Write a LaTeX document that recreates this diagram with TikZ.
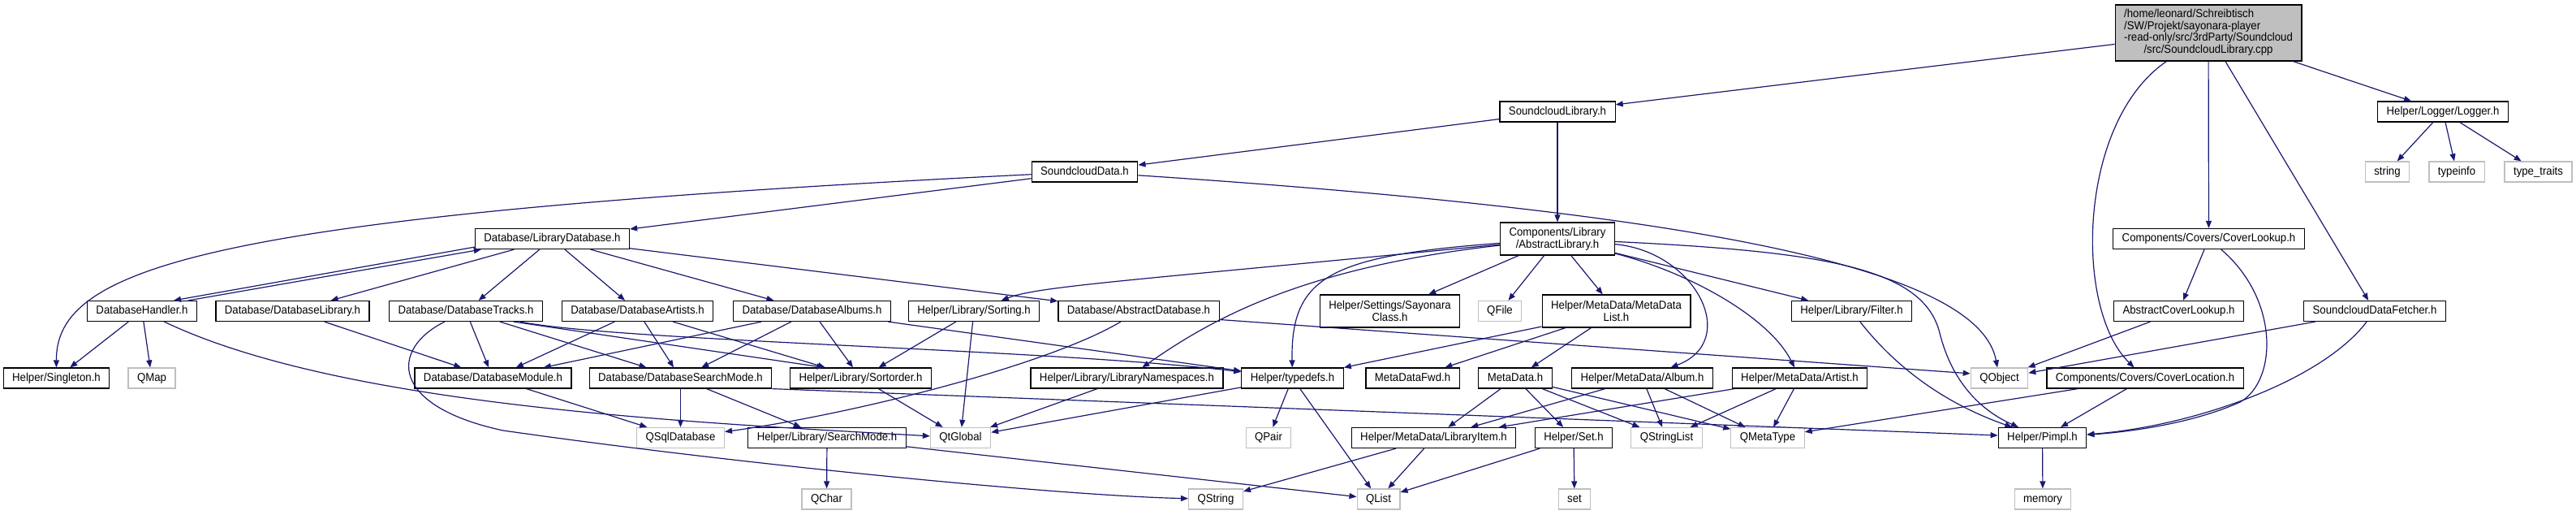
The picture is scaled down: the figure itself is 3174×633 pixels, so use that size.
\documentclass[tikz,border=0pt]{standalone}
\usepackage{fontspec}
\setmainfont{Liberation Sans}[FakeStretch=0.93]
\usepackage{tikz}
\usetikzlibrary{arrows.meta,calc}
\definecolor{edgeblue}{HTML}{191970}
\definecolor{extgray}{HTML}{BFBFBF}
\definecolor{rootgray}{HTML}{BFBFBF}
\newcommand\dxfont{\fontsize{7.1}{7.35}\selectfont}

\begin{document}
\begin{tikzpicture}[
    x=0.5pt, y=-0.5pt,
    dxbox/.style={line width=0.6pt, inner xsep=5.5pt, inner ysep=0pt, font=\dxfont},
    hdr/.style={dxbox, draw=black, minimum height=12.5pt, text height=5.2pt, text depth=1.5pt},
    ext/.style={hdr, draw=extgray},
    hdrtwo/.style={dxbox, draw=black, align=center, minimum height=20pt},
    arr/.style={-{Triangle[length=4.5pt,width=3.5pt]}, draw=edgeblue, line width=0.6pt}
  ]
    \useasboundingbox (0,0) rectangle (3174,633);
    % top levels
    \node[dxbox, draw=black, fill=rootgray, minimum width=113.5pt, minimum height=34.5pt] (root) at (2721,40.5)
      {\begin{tabular}{@{}l@{}}/home/leonard/Schreibtisch\\/SW/Projekt/sayonara-player\\-read-only/src/3rdParty/Soundcloud\\\multicolumn{1}{@{}c@{}}{/src/SoundcloudLibrary.cpp}\end{tabular}};
    \node[hdr] (scl) at (1919,137.5) {SoundcloudLibrary.h};
    \node[hdr] (logger) at (3010,137.5) {Helper/Logger/Logger.h};
    \node[ext] (strg) at (2941.5,211.5) {string};
    \node[ext] (tinfo) at (3027,211.5) {typeinfo};
    \node[ext] (ttraits) at (3127.5,211.5) {type\_traits};
    \node[hdr] (sd) at (1336.5,211.5) {SoundcloudData.h};
    \node[hdr] (libdb) at (680.5,294) {Database/LibraryDatabase.h};
    \node[hdrtwo] (abslib) at (1919,294) {Components/Library\\/AbstractLibrary.h};
    \node[hdr] (clookup) at (2721.5,294) {Components/Covers/CoverLookup.h};
    % middle row
    \node[hdr] (dbh) at (175,383) {DatabaseHandler.h};
    \node[hdr] (dblib) at (360.5,383) {Database/DatabaseLibrary.h};
    \node[hdr] (dbtracks) at (574,383) {Database/DatabaseTracks.h};
    \node[hdr] (dbartists) at (785.5,383) {Database/DatabaseArtists.h};
    \node[hdr] (dbalbums) at (1000.5,383) {Database/DatabaseAlbums.h};
    \node[hdr] (sorting) at (1200,383) {Helper/Library/Sorting.h};
    \node[hdr] (absdb) at (1403,383) {Database/AbstractDatabase.h};
    \node[hdrtwo] (sayclass) at (1712.5,383) {Helper/Settings/Sayonara\\Class.h};
    \node[ext] (qfile) at (1848,383) {QFile};
    \node[hdrtwo] (mdlist) at (1991.5,383) {Helper/MetaData/MetaData\\List.h};
    \node[hdr] (filter) at (2281.5,383) {Helper/Library/Filter.h};
    \node[hdr] (acl) at (2684.5,383) {AbstractCoverLookup.h};
    \node[hdr] (sdf) at (2926,383) {SoundcloudDataFetcher.h};
    % lower rows
    \node[hdr] (singleton) at (69.5,465.5) {Helper/Singleton.h};
    \node[ext] (qmap) at (187,465.5) {QMap};
    \node[hdr] (dbmodule) at (607.5,465.5) {Database/DatabaseModule.h};
    \node[hdr] (dbsearch) at (838.5,465.5) {Database/DatabaseSearchMode.h};
    \node[hdr] (sortorder) at (1060.5,465.5) {Helper/Library/Sortorder.h};
    \node[hdr] (libns) at (1388.5,465.5) {Helper/Library/LibraryNamespaces.h};
    \node[hdr] (typedefs) at (1592.5,465.5) {Helper/typedefs.h};
    \node[hdr] (mdfwd) at (1740.5,465.5) {MetaDataFwd.h};
    \node[hdr] (metadata) at (1867,465.5) {MetaData.h};
    \node[hdr] (album) at (2023.5,465.5) {Helper/MetaData/Album.h};
    \node[hdr] (artist) at (2217.5,465.5) {Helper/MetaData/Artist.h};
    \node[ext] (qobject) at (2463.5,465.5) {QObject};
    \node[hdr] (cloc) at (2643,465.5) {Components/Covers/CoverLocation.h};
    \node[ext] (qsql) at (838.5,539) {QSqlDatabase};
    \node[hdr] (searchmode) at (1019,539) {Helper/Library/SearchMode.h};
    \node[ext] (qtglobal) at (1183.5,539) {QtGlobal};
    \node[ext] (qpair) at (1563,539) {QPair};
    \node[hdr] (libitem) at (1766.5,539) {Helper/MetaData/LibraryItem.h};
    \node[hdr] (hset) at (1939,539) {Helper/Set.h};
    \node[ext] (qstrlist) at (2053.5,539) {QStringList};
    \node[ext] (qmeta) at (2178,539) {QMetaType};
    \node[hdr] (pimpl) at (2516.5,539) {Helper/Pimpl.h};
    \node[ext] (qchar) at (1018.5,614.5) {QChar};
    \node[ext] (qstring) at (1498,614.5) {QString};
    \node[ext] (qlist) at (1698.5,614.5) {QList};
    \node[ext] (stdset) at (1940,614.5) {set};
    \node[ext] (memory) at (2517,614.5) {memory};
    % straight includes
    \foreach \a/\b in {root/scl, root/clookup, root/logger, root/sdf, scl/sd, scl/abslib,
        sd/libdb, libdb/dblib, libdb/dbtracks, libdb/dbartists, libdb/dbalbums, libdb/absdb,
        dbh/singleton, dbh/qmap, dblib/dbmodule, dbtracks/dbmodule, dbtracks/dbsearch,
        dbartists/dbmodule, dbartists/dbsearch, dbartists/sortorder,
        dbalbums/dbmodule, dbalbums/dbsearch, dbalbums/sortorder, dbalbums/typedefs,
        sorting/sortorder, sorting/qtglobal, abslib/sayclass, abslib/qfile, abslib/mdlist,
        abslib/filter, mdlist/typedefs, mdlist/mdfwd, mdlist/metadata,
        metadata/libitem, metadata/hset, metadata/qstrlist, metadata/qmeta,
        album/libitem, album/qstrlist, album/qmeta, artist/libitem, artist/qstrlist, artist/qmeta,
        libitem/qstring, libitem/qlist, hset/qlist, hset/stdset,
        typedefs/qtglobal, typedefs/qpair, typedefs/qlist, searchmode/qchar, searchmode/qlist,
        dbmodule/qsql, dbsearch/qsql, dbsearch/searchmode, sortorder/qtglobal, libns/qtglobal,
        clookup/acl, acl/qobject, sdf/qobject, cloc/qmeta, cloc/pimpl, pimpl/memory,
        logger/strg, logger/tinfo, logger/ttraits}
      \draw[arr] (\a) -- (\b);
    % cycle between handler and library database
    \draw[arr] ($(libdb.south west)+(0,-3)$) -- ($(dbh.north)+(39,0)$);
    \draw[arr] ($(dbh.north)+(57,0)$) -- ($(libdb.south west)+(8,0)$);
    % long and bent includes
    \draw[arr] (root) .. controls (2560,150) and (2555,380) .. (cloc);
    \draw[arr] (sd) .. controls (250,265) and (69,330) .. (singleton);
    \draw[arr] (sd) .. controls (2150,265) and (2440,340) .. (qobject);
    \draw[arr] (dbh) .. controls (420,500) and (850,520) .. (qtglobal);
    \draw[arr] ($(dbtracks.south)+(59,0)$) -- ($(sortorder.north)+(-45,0)$);
    \draw[arr] ($(dbtracks.south)+(67,0)$) .. controls (760,420) and (1300,430) .. (typedefs);
    \draw[arr] (dbtracks) .. controls (480,430) and (480,500) .. (620,530)
      .. controls (900,570) and (1300,610) .. (qstring);
    \draw[arr] (absdb) .. controls (1290,450) and (1050,510) .. (qsql);
    \draw[arr] (absdb.-6) -- (qobject.171);
    \draw[arr] (dbsearch.south east) -- ($(pimpl.west)+(0,-3)$);
    \draw[arr] (abslib) .. controls (1400,345) and (1280,352) .. (sorting);
    \draw[arr] (abslib) .. controls (1600,330) and (1490,395) .. (libns);
    \draw[arr] (abslib) .. controls (1640,315) and (1590,340) .. (typedefs);
    \draw[arr] (abslib) .. controls (2090,310) and (2145,420) .. (album);
    \draw[arr] (abslib) .. controls (2080,335) and (2180,390) .. (artist);
    \draw[arr] (abslib) .. controls (2250,310) and (2370,330) .. (2390,410)
      .. controls (2405,470) and (2440,505) .. (pimpl);
    \draw[arr] (filter) .. controls (2350,470) and (2420,505) .. (pimpl);
    \draw[arr] (clookup) .. controls (2810,370) and (2805,470) .. (2760,495)
      .. controls (2700,522) and (2620,532) .. (pimpl);
    \draw[arr] (sdf) .. controls (2860,470) and (2700,525) .. (pimpl);
  \end{tikzpicture}
\end{document}
